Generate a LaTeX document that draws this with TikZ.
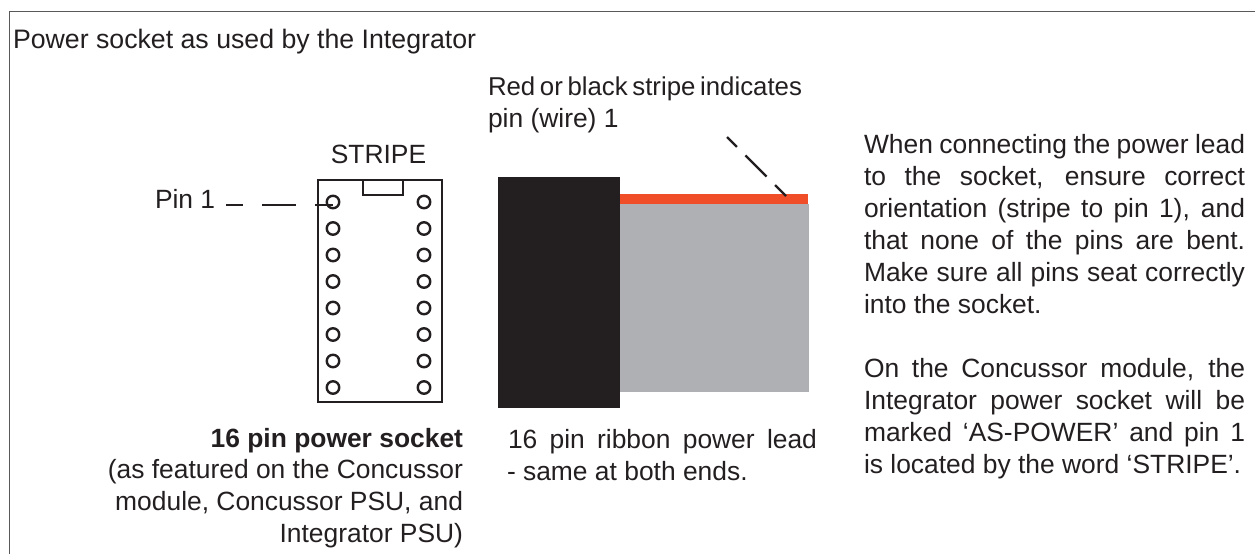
\documentclass[tikz,border=0pt]{standalone}
\usepackage{fontspec}
\setmainfont{Liberation Sans}
\definecolor{ink}{HTML}{231F20}
\definecolor{ribbon}{HTML}{AFB0B3}
\definecolor{stripe}{HTML}{F04E29}
\tikzset{
  lbl/.style={inner sep=0pt,outer sep=0pt,text=ink,font=\fontsize{26.4}{32}\selectfont},
  frame/.style={draw=black!65,line width=1pt},
  sock/.style={draw=ink,line width=2.3pt},
  pinhole/.style={circle,draw=ink,line width=2.4pt,minimum size=12.5pt,inner sep=0pt,outer sep=0pt},
  leader/.style={draw=ink,line width=2.3pt},
}
\begin{document}
\begin{tikzpicture}[x=1pt,y=-1pt]
\useasboundingbox (0,0) rectangle (1255,554);
\draw[frame] (9.5,554) -- (9.5,11.5) -- (1255,11.5);
\node[lbl,anchor=base west] (title) at (13,48) {\fontsize{26.7}{32}\selectfont Power socket as used by the Integrator};
\node[lbl,anchor=base] (stripelbl) at (378.5,163) {STRIPE};
\node[lbl,anchor=base west] (pinlbl) at (155,208) {Pin 1};
\draw[sock] (318,180) rectangle (442,402);
\draw[sock] (363,180) rectangle (403,195);
\foreach \i in {0,...,7}{
  \node[pinhole] (l\i) at (333,{202+26.5*\i}) {};
  \node[pinhole] (r\i) at (424,{202+26.5*\i}) {};
}
\coordinate (pinstart) at (226,205);
\draw[leader,dash pattern=on 17pt off 19pt on 34pt off 19pt on 18pt] (pinstart) -- (l0.center |- pinstart);
\fill[ribbon] (620,204) rectangle (809,392);
\fill[stripe] (620,194) rectangle (808,204);
\fill[ink] (498,177) rectangle (620,408);
\coordinate (diagstart) at (727,137);
\coordinate (diagend) at (786,196);
\draw[leader,dash pattern=on 14pt off 12pt on 30pt off 12pt on 16pt] (diagstart) -- (diagend);
\node[lbl,anchor=base west] (redlbl) at (488,95) {\hbox to 314pt{\fontsize{25.8}{32}\selectfont\spaceskip=.2em plus 1em minus .1em Red or black stripe indicates}};
\node[lbl,anchor=base west] (redlblb) at (488,127) {pin (wire) 1};
\node[lbl,anchor=base east] (s1) at (463,447) {\textbf{16 pin power socket}};
\node[lbl,anchor=base east] (s2) at (463,478) {(as featured on the Concussor};
\node[lbl,anchor=base east] (s3) at (463,510) {module, Concussor PSU, and};
\node[lbl,anchor=base east] (s4) at (463,542) {Integrator PSU)};
\node[lbl,anchor=base west] (leada) at (508,448) {\hbox to 309pt{\spaceskip=.278em plus 1em minus .15em 16 pin ribbon power lead}};
\node[lbl,anchor=base west] (leadb) at (507,480) {- same at both ends.};
\node[lbl,anchor=base west] (body) at (864,153) {\parbox[t]{381pt}{\fontsize{26.4}{32}\selectfont\spaceskip=.278em plus .6em minus .18em
When connecting the power lead\linebreak
to the socket, ensure correct\linebreak
orientation (stripe to pin 1), and\linebreak
that none of the pins are bent.\linebreak
Make sure all pins seat correctly\linebreak
into the socket.\par\vspace{32pt}
On the Concussor module, the\linebreak
Integrator power socket will be\linebreak
marked ‘AS-POWER’ and pin 1\linebreak
is located by the word ‘STRIPE’.}};
\end{tikzpicture}
\end{document}
